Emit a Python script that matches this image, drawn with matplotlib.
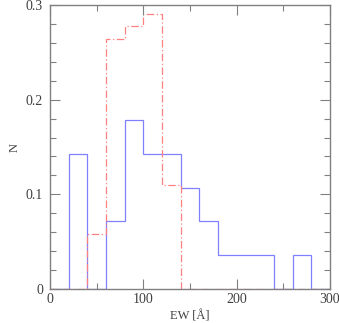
import matplotlib.pyplot as plt
import numpy as np
from matplotlib.ticker import MultipleLocator, FuncFormatter

# bin edges for EW (Angstrom), 20 A wide
edges = np.arange(0, 320, 20)

# fraction per bin, blue solid sample
blue_frac = [0.0, 0.143, 0.0, 0.0714, 0.179, 0.143, 0.143, 0.107,
             0.0714, 0.0357, 0.0357, 0.0357, 0.0, 0.0357, 0.0]
# fraction per bin, red dash-dot sample
red_frac = [0.0, 0.0, 0.058, 0.264, 0.278, 0.290, 0.110, 0.0,
            0.0, 0.0, 0.0, 0.0, 0.0, 0.0, 0.0]

plt.rcParams['font.family'] = 'Liberation Serif'

fig = plt.figure(figsize=(3.39, 3.23), dpi=100)
ax = fig.add_axes([50 / 339, 1 - 289 / 323, 280 / 339, 284 / 323])

ax.stairs(blue_frac, edges, color='#8080ff', lw=0.9)
ax.stairs(red_frac, edges, color='#ff8080', lw=0.9, linestyle=(0, (6, 2, 1, 2)))

ax.set_xlim(0, 300)
ax.set_ylim(0, 0.3)
ax.xaxis.set_major_locator(MultipleLocator(100))
ax.xaxis.set_minor_locator(MultipleLocator(50))
ax.yaxis.set_major_locator(MultipleLocator(0.1))
ax.yaxis.set_minor_locator(MultipleLocator(0.02))
fmt = FuncFormatter(lambda v, p: '%g' % round(v, 3))
ax.xaxis.set_major_formatter(fmt)
ax.yaxis.set_major_formatter(fmt)

for s in ax.spines.values():
    s.set_color('#808080')
    s.set_linewidth(1.0)
ax.tick_params(which='both', direction='in', top=True, right=True,
               colors='#808080', labelcolor='#404040', labelsize=10)
ax.tick_params(which='major', length=7, width=0.8)
ax.tick_params(axis='x', which='major', pad=3)
ax.tick_params(axis='y', which='major', pad=5)
ax.tick_params(which='minor', length=4, width=0.8)

ax.set_xlabel('EW [Å]', fontsize=9, color='#404040', va='center')
ax.xaxis.set_label_coords(0.5, -0.095)
ax.set_ylabel('N', fontsize=9, color='#404040', va='center')
ax.yaxis.set_label_coords(-0.125, 0.5)

fig.savefig('out.png', dpi=100)
